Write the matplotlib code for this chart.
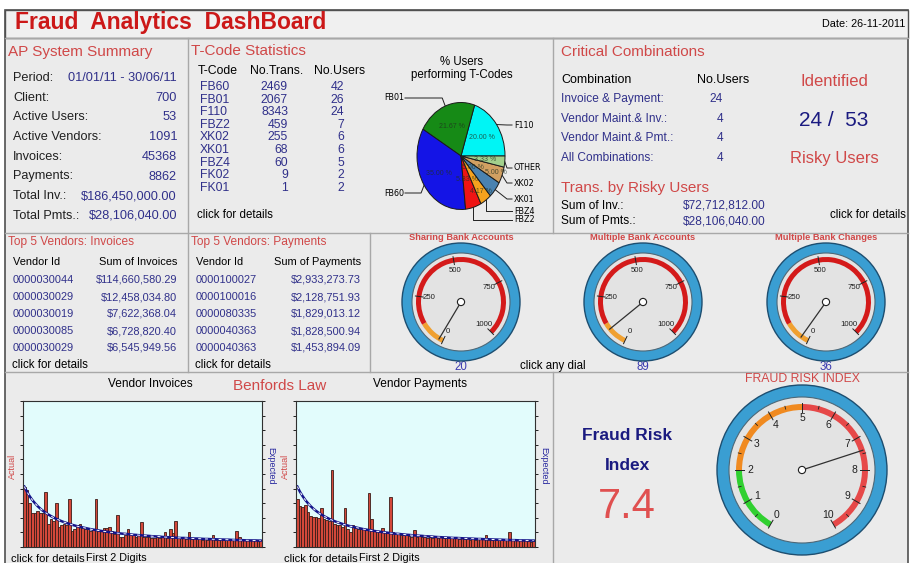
import math
import matplotlib
matplotlib.use('Agg')
import matplotlib.pyplot as plt
from matplotlib.patches import Circle, Wedge, Rectangle

plt.rcParams['font.family'] = ['Liberation Sans', 'DejaVu Sans']

# =============================================================================
#                                   Data                                      #
# =============================================================================

report_date = '26-11-2011'

ap_labels = ['Period:', 'Client:', 'Active Users:', 'Active Vendors:',
             'Invoices:', 'Payments:', 'Total Inv.:', 'Total Pmts.:']
ap_values = ['01/01/11 - 30/06/11', '700', '53', '1091', '45368', '8862',
             '$186,450,000.00', '$28,106,040.00']

tcodes = ['FB60', 'FB01', 'F110', 'FBZ2', 'XK02', 'XK01', 'FBZ4', 'FK02', 'FK01']
tcode_trans = [2469, 2067, 8343, 459, 255, 68, 60, 9, 1]
tcode_users = [42, 26, 24, 7, 6, 6, 5, 2, 2]

# pie slices in drawing order, anything else goes to OTHER
pie_codes = ['F110', 'FB01', 'FB60', 'FBZ2', 'FBZ4', 'XK01', 'XK02']
pie_colors = ['#00f5f5', '#168a16', '#1414e6', '#ee1414', '#f5a21e',
              '#4a82b0', '#d2a062', '#a2d08c']

combo_names = ['Invoice & Payment:', 'Vendor Maint.& Inv.:',
               'Vendor Maint.& Pmt.:', 'All Combinations:']
combo_users = [24, 4, 4, 4]
risky_users = 24
active_users = 53
risky_sum_inv = 72712812.00
risky_sum_pmt = 28106040.00

inv_vendor_ids = ['0000030044', '0000030029', '0000030019', '0000030085', '0000030029']
inv_vendor_sums = [114660580.29, 12458034.80, 7622368.04, 6728820.40, 6545949.56]
pay_vendor_ids = ['0000100027', '0000100016', '0000080335', '0000040363', '0000040363']
pay_vendor_sums = [2933273.73, 2128751.93, 1829013.12, 1828500.94, 1453894.09]

dial_titles = ['Sharing Bank Accounts', 'Multiple Bank Accounts', 'Multiple Bank Changes']
dial_values = [20, 89, 36]
fraud_index = 7.4

digits = list(range(10, 100))
benford_expected = [
    4.14, 3.78, 3.48, 3.22, 3.00, 2.80, 2.63, 2.48, 2.35, 2.23,
    2.12, 2.02, 1.93, 1.85, 1.77, 1.70, 1.64, 1.58, 1.52, 1.47,
    1.42, 1.38, 1.34, 1.30, 1.26, 1.22, 1.19, 1.16, 1.13, 1.10,
    1.07, 1.05, 1.02, 1.00, 0.98, 0.95, 0.93, 0.91, 0.90, 0.88,
    0.86, 0.84, 0.83, 0.81, 0.80, 0.78, 0.77, 0.76, 0.74, 0.73,
    0.72, 0.71, 0.69, 0.68, 0.67, 0.66, 0.65, 0.64, 0.63, 0.62,
    0.62, 0.61, 0.60, 0.59, 0.58, 0.58, 0.57, 0.56, 0.55, 0.55,
    0.54, 0.53, 0.53, 0.52, 0.51, 0.51, 0.50, 0.50, 0.49, 0.48,
    0.48, 0.47, 0.47, 0.46, 0.46, 0.45, 0.45, 0.45, 0.44, 0.44]
inv_actual = [
    4.1, 3.9, 3.0, 2.3, 2.3, 2.5, 2.3, 2.3, 3.8, 1.6,
    1.9, 1.8, 3.0, 1.4, 1.5, 1.6, 1.5, 3.3, 1.1, 1.2,
    1.5, 1.6, 1.3, 1.2, 1.2, 1.1, 1.2, 3.3, 1.1, 1.1,
    1.3, 1.3, 1.4, 1.1, 0.9, 2.2, 0.7, 0.7, 0.8, 1.2,
    0.9, 0.8, 0.7, 0.8, 1.7, 0.7, 0.7, 0.7, 0.6, 0.6,
    0.7, 0.6, 0.7, 1.05, 0.6, 1.2, 0.95, 1.8, 0.6, 0.6,
    0.6, 0.55, 1.0, 0.55, 0.6, 0.55, 0.6, 0.5, 0.55, 0.5,
    0.55, 0.85, 0.5, 0.5, 0.55, 0.5, 0.5, 0.55, 0.5, 0.5,
    1.1, 0.7, 0.5, 0.5, 0.45, 0.5, 0.45, 0.5, 0.4, 0.5]
pay_actual = [
    3.3, 2.8, 2.75, 2.9, 2.4, 2.1, 2.05, 2.05, 2.0, 2.7,
    1.95, 1.85, 1.75, 5.3, 1.6, 1.5, 1.5, 1.4, 2.65, 1.2,
    1.0, 1.5, 1.3, 1.25, 1.2, 1.2, 1.15, 3.7, 1.95, 1.1,
    1.1, 1.05, 1.3, 1.0, 1.0, 3.4, 1.0, 0.95, 0.9, 0.85,
    0.85, 0.8, 0.75, 0.7, 1.15, 0.7, 0.75, 0.7, 0.7, 0.65,
    0.7, 0.65, 0.7, 0.65, 0.7, 0.6, 0.65, 0.6, 0.6, 0.6,
    0.6, 0.55, 0.6, 0.55, 0.6, 0.5, 0.55, 0.5, 0.55, 0.55,
    0.55, 0.8, 0.5, 0.5, 0.55, 0.5, 0.5, 0.5, 0.5, 0.5,
    1.0, 0.55, 0.5, 0.5, 0.45, 0.5, 0.45, 0.4, 0.35, 0.4]

# =============================================================================
#                                  Styling                                    #
# =============================================================================

W, H = 911, 563
RED = '#d04848'
BLUE = '#30308a'
NAVY = '#1a1a80'
PANEL = '#ebebeb'
LINE = '#a8a8a8'

fig = plt.figure(figsize=(W / 100, H / 100), dpi=100, facecolor='white')
base = fig.add_axes([0, 0, 1, 1])
base.set_xlim(0, W)
base.set_ylim(H, 0)
base.axis('off')


def px_axes(x0, y0, w, h):
    """Axes placed by pixel box, y measured from the top."""
    return fig.add_axes([x0 / W, 1 - (y0 + h) / H, w / W, h / H])


def txt(x, y, s, size=9, color='black', ha='left', **kw):
    base.text(x, y, s, fontsize=size, color=color, ha=ha, va='center', **kw)


def money(v):
    return '${:,.2f}'.format(v)


# panel background and separators
base.add_patch(Rectangle((5, 10), 903, 560, fc=PANEL, ec='#505050', lw=1.2))
base.add_patch(Rectangle((5, 10), 903, 28, fc='#f0f0f0', ec='#505050', lw=1.0))
for x0, x1, y in [(5, 908, 38), (5, 908, 233), (5, 908, 372)]:
    base.plot([x0, x1], [y, y], color=LINE, lw=1)
for x, y0, y1 in [(188, 38, 372), (553, 38, 233), (370, 233, 372), (553, 372, 563)]:
    base.plot([x, x], [y0, y1], color=LINE, lw=1)

# title row
txt(15, 23, 'Fraud  Analytics  DashBoard', size=16.5, color='#cc1818', weight='bold')
txt(905, 24, 'Date: ' + report_date, size=7.8, ha='right')

# ----------------------------- AP System Summary -----------------------------
txt(8, 52, 'AP System Summary', size=11, color=RED)
for i, (lab, val) in enumerate(zip(ap_labels, ap_values)):
    y = 78 + i * 19.7
    txt(13, y, lab, size=9.2, color='#202020')
    txt(177, y, val, size=9.2, color=BLUE, ha='right')

# ------------------------------ T-Code Statistics ----------------------------
txt(191, 51, 'T-Code Statistics', size=11, color=RED)
txt(198, 71, 'T-Code', size=8.8)
txt(250, 71, 'No.Trans.', size=8.8)
txt(314, 71, 'No.Users', size=8.8)
for i, (code, tr, us) in enumerate(zip(tcodes, tcode_trans, tcode_users)):
    y = 87 + i * 12.6
    txt(200, y, code, size=8.8, color=BLUE)
    txt(288, y, str(tr), size=8.8, color=BLUE, ha='right')
    txt(344, y, str(us), size=8.8, color=BLUE, ha='right')
txt(197, 215, 'click for details', size=8.3)

# pie of users per t-code
user_map = dict(zip(tcodes, tcode_users))
pie_labels = pie_codes + ['OTHER']
pie_sizes = [user_map[c] for c in pie_codes] + \
    [sum(u for c, u in user_map.items() if c not in pie_codes)]

txt(462, 62, '% Users', size=8.3, ha='center')
txt(462, 75, 'performing T-Codes', size=8.3, ha='center')

PCX, PCY, PRX, PRY = 461, 156, 44, 53.5
pax = px_axes(PCX - PRX, PCY - PRY, 2 * PRX, 2 * PRY)
wedges, _, autot = pax.pie(pie_sizes, colors=pie_colors, startangle=0, counterclock=True,
                           autopct=lambda p: '{:.2f} %'.format(p), pctdistance=0.6,
                           textprops=dict(fontsize=5.0, color='#203020', alpha=0.75),
                           wedgeprops=dict(edgecolor='#1a1a1a', linewidth=0.7))
pax.set_aspect('auto')
pax.set_xlim(-1, 1)
pax.set_ylim(-1, 1)
# stagger the crowded percentage labels of the thin slices
pct_dist = {'FBZ2': 0.45, 'FBZ4': 0.8, 'XK01': 0.35, 'XK02': 0.85, 'OTHER': 0.55}
for w, lab, t in zip(wedges, pie_labels, autot):
    if lab in pct_dist:
        mid = math.radians((w.theta1 + w.theta2) / 2)
        t.set_position((pct_dist[lab] * math.cos(mid), pct_dist[lab] * math.sin(mid)))

# label positions and leader line shapes (layout only)
pie_label_pos = {'F110': (514, 125, 'd'), 'FB01': (404, 98, 'l'), 'FB60': (404, 193, 'l'),
                 'FBZ2': (514, 220, 'v'), 'FBZ4': (514, 211, 'v'), 'XK01': (514, 199, 'd'),
                 'XK02': (514, 183, 'd'), 'OTHER': (514, 168, 'd')}
for w, lab in zip(wedges, pie_labels):
    mid = math.radians((w.theta1 + w.theta2) / 2)
    ex = PCX + PRX * math.cos(mid)
    ey = PCY - PRY * math.sin(mid)
    lx, ly, kind = pie_label_pos[lab]
    if kind == 'l':
        pts = [(lx + 1, ly), (ex - 3 if ex > lx + 20 else ex - 6, ly), (ex, ey)]
        txt(lx, ly, lab, size=5.8, ha='right', family='DejaVu Sans')
    else:
        if kind == 'v':
            pts = [(ex, ey), (ex, ly), (lx - 2, ly)]
        else:
            pts = [(ex, ey), (lx - 7, ly), (lx - 2, ly)]
        txt(lx, ly, lab, size=5.8, family='DejaVu Sans')
    base.plot([p[0] for p in pts], [p[1] for p in pts], color='#202020', lw=0.7)

# ---------------------------- Critical Combinations --------------------------
txt(561, 52, 'Critical Combinations', size=11, color=RED)
txt(561, 80, 'Combination', size=9)
txt(697, 80, 'No.Users', size=9)
for i, (name, n) in enumerate(zip(combo_names, combo_users)):
    y = 99 + i * 19.6
    txt(561, y, name, size=8.6, color=BLUE)
    txt(723, y, str(n), size=8.6, color=BLUE, ha='right')
txt(834, 81, 'Identified', size=12, color=RED, ha='center')
txt(834, 121, '{} /  {}'.format(risky_users, active_users), size=15, color=NAVY, ha='center')
txt(834, 159, 'Risky Users', size=12, color=RED, ha='center')
txt(561, 188, 'Trans. by Risky Users', size=11, color=RED)
txt(561, 206, 'Sum of Inv.:', size=8.6)
txt(561, 221, 'Sum of Pmts.:', size=8.6)
txt(683, 206, money(risky_sum_inv), size=8.6, color=BLUE)
txt(683, 221, money(risky_sum_pmt), size=8.6, color=BLUE)
txt(906, 215, 'click for details', size=8.3, ha='right')

# ------------------------------ Top 5 vendors --------------------------------
for x0, x1, title, head, ids, sums in [
        (9, 177, 'Top 5 Vendors: Invoices', 'Sum of Invoices', inv_vendor_ids, inv_vendor_sums),
        (192, 361, 'Top 5 Vendors: Payments', 'Sum of Payments', pay_vendor_ids, pay_vendor_sums)]:
    txt(x0 - 1, 242, title, size=8.6, color=RED)
    txt(x0 + 4, 262, 'Vendor Id', size=7.9)
    txt(x1, 262, head, size=7.9, ha='right')
    for i, (vid, s) in enumerate(zip(ids, sums)):
        y = 280 + i * 17
        txt(x0 + 4, y, vid, size=7.9, color=BLUE)
        txt(x1, y, money(s), size=7.9, color=BLUE, ha='right')
    txt(x0 + 3, 365, 'click for details', size=8.3)


# ---------------------------------- Dials ------------------------------------
def dial(cx, cy, box, r_out, r_face, r_band, band_w, ang, bands, major, minor,
         lab_r, lab_size, value, needle_r):
    ax = px_axes(cx - box / 2, cy - box / 2, box, box)
    ax.set_xlim(-box / 2, box / 2)
    ax.set_ylim(-box / 2, box / 2)
    ax.axis('off')
    ax.add_patch(Circle((0, 0), r_out, fc='#3a9ed2', ec='#1d4e70', lw=1.0))
    ax.add_patch(Circle((0, 0), r_face, fc='#e3e3e3', ec='#4d6878', lw=0.8))
    for v0, v1, c in bands:
        ax.add_patch(Wedge((0, 0), r_band, ang(v1), ang(v0), width=band_w, fc=c, ec='none'))
    for v in minor:
        a = math.radians(ang(v))
        ax.plot([(r_band - band_w * 0.5) * math.cos(a), r_band * math.cos(a)],
                [(r_band - band_w * 0.5) * math.sin(a), r_band * math.sin(a)],
                color='#222222', lw=0.6)
    for v, lab in major:
        a = math.radians(ang(v))
        ax.plot([(r_band - band_w - 2) * math.cos(a), (r_band + 1) * math.cos(a)],
                [(r_band - band_w - 2) * math.sin(a), (r_band + 1) * math.sin(a)],
                color='#222222', lw=0.7)
        ax.text(lab_r * math.cos(a), lab_r * math.sin(a), lab, fontsize=lab_size,
                ha='center', va='center', color='#202020')
    a = math.radians(ang(value))
    ax.plot([0, needle_r * math.cos(a)], [0, needle_r * math.sin(a)], color='#303030', lw=0.9)
    ax.add_patch(Circle((0, 0), 3.6, fc='white', ec='#202020', lw=0.8, zorder=5))


dial_x = [461, 643, 826]
for cx, title, val in zip(dial_x, dial_titles, dial_values):
    txt(cx, 238, title, size=6.7, color=RED, ha='center', weight='bold')
    dial(cx, 302, 130, 59, 49, 45, 5, lambda v: 245 - 0.29 * v,
         [(0, 120, '#f0a030'), (120, 1000, '#d41a1a')],
         [(0, '0'), (250, '250'), (500, '500'), (750, '750'), (1000, '1000')], [],
         32, 5.6, val, 43)
    txt(cx, 367.5, str(val), size=8.3, color='#3a3ab0', ha='center')
txt(520, 366, 'click any dial', size=8.3)

# ------------------------------ Benford charts -------------------------------
txt(150, 384, 'Vendor Invoices', size=8.6, ha='center')
txt(280, 386, 'Benfords Law', size=11, color=RED, ha='center')
txt(420, 384, 'Vendor Payments', size=8.6, ha='center')

for x0, actual in [(23, inv_actual), (296, pay_actual)]:
    bax = px_axes(x0, 401, 239, 146)
    bax.set_facecolor('#e2fcfc')
    bax.bar(digits, actual, width=1.0, color='#d4483a', edgecolor='#3a1c18', linewidth=0.6)
    bax.plot(digits, benford_expected, color='#14148a', lw=1.8)
    bax.plot(digits, benford_expected, color='white', lw=0.7, ls=(0, (3, 4)))
    bax.set_xlim(9.5, 99.5)
    bax.set_ylim(0, 10)
    bax.set_xticks([])
    bax.set_yticks(range(11))
    bax.tick_params(axis='y', left=True, right=True, labelleft=False, labelright=False,
                    direction='out', length=2.5, width=0.6)
    for sp in bax.spines.values():
        sp.set_color('#303030')
        sp.set_linewidth(0.8)
    txt(x0 - 11, 466, 'Actual', size=6.5, color=RED, ha='center', rotation=90)
    txt(x0 + 248, 466, 'Expected', size=6.5, color='#2a2aa0', ha='center', rotation=-90)
    txt(x0 - 12, 559, 'click for details', size=8)
    txt(x0 + 93, 558, 'First 2 Digits', size=7.8, ha='center')

# ----------------------------- Fraud risk index ------------------------------
txt(627, 435, 'Fraud Risk', size=12.5, color=NAVY, ha='center', weight='bold')
txt(627, 466, 'Index', size=12.5, color=NAVY, ha='center', weight='bold')
txt(627, 507, '{:.1f}'.format(fraud_index), size=30, color='#e05050', ha='center')
txt(802, 379, 'FRAUD RISK INDEX', size=8.8, color=RED, ha='center')
dial(802, 470, 180, 85, 73, 66, 6, lambda v: 240 - 30 * v,
     [(0, 2, '#30d030'), (2, 5, '#f08a20'), (5, 10, '#e64848')],
     [(v, str(v)) for v in range(11)], [v + 0.5 for v in range(10)],
     52, 7.5, fraud_index, 64)

fig.savefig('out.png', dpi=100, facecolor='white')
